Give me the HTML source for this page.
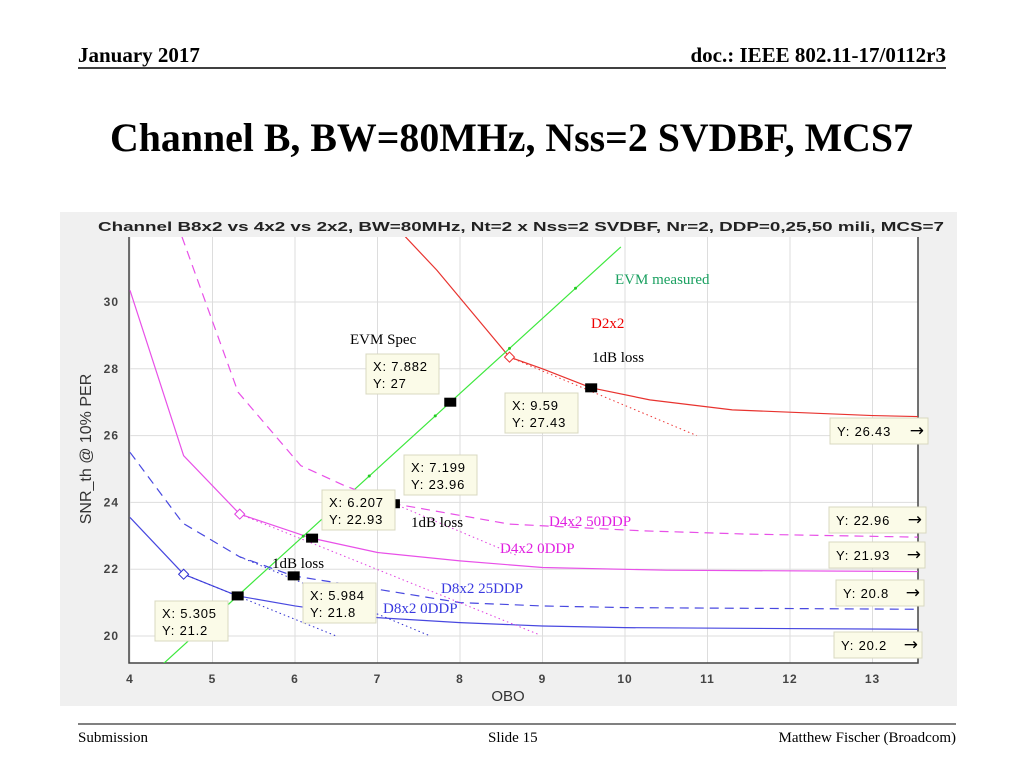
<!DOCTYPE html>
<html><head><meta charset="utf-8"><style>
html,body{margin:0;padding:0;background:#fff;}
svg{display:block;font-family:"Liberation Serif",serif;}
</style></head><body>
<svg id="slide" width="1024" height="768" viewBox="0 0 1024 768">
<text x="78" y="62" font-size="21" font-weight="bold">January 2017</text>
<text x="946" y="62" font-size="21" font-weight="bold" text-anchor="end">doc.: IEEE 802.11-17/0112r3</text>
<line x1="78" y1="68" x2="946" y2="68" stroke="#000" stroke-width="1.5"/>
<text x="110" y="151" font-size="40" font-weight="bold" textLength="803" lengthAdjust="spacingAndGlyphs">Channel B, BW=80MHz, Nss=2 SVDBF, MCS7</text>
<rect x="60" y="212" width="897" height="494" fill="#f0f0f0"/>
<text x="98" y="231" font-family="Liberation Sans,sans-serif" font-size="13" font-weight="bold" fill="#222" textLength="846" lengthAdjust="spacingAndGlyphs">Channel B8x2 vs 4x2 vs 2x2, BW=80MHz, Nt=2 x Nss=2 SVDBF, Nr=2, DDP=0,25,50 mili, MCS=7</text>
<g id="plot"></g>
<line x1="78" y1="724" x2="956" y2="724" stroke="#000" stroke-width="1"/>
<text x="78" y="742" font-size="15">Submission</text>
<text x="488" y="742" font-size="15">Slide 15</text>
<text x="956" y="742" font-size="15" text-anchor="end">Matthew Fischer (Broadcom)</text>
</svg>
<script>
const xTicks=[4,5,6,7,8,9,10,11,12,13];
const yTicks=[20,22,24,26,28,30];
const d2x2X=[7.32,7.72,8.6,9.0,9.59,10.3,11.3,13.0,13.55];
const d2x2Y=[32.0,30.95,28.35,28.0,27.43,27.07,26.77,26.6,26.57];
const evmX=[4.36,5.3,6.1,6.9,7.7,8.6,9.4,9.95];
const evmY=[19.07,21.19,22.99,24.79,26.59,28.61,30.41,31.65];
const d4x2_50X=[4.63,5.31,6.07,6.6,7.2,8.6,10.2,11.5,13.55];
const d4x2_50Y=[31.95,27.3,25.1,24.5,23.96,23.35,23.15,23.05,22.96];
const d4x2_0X=[4.0,4.65,5.33,6.2,7.0,8.0,9.0,10.5,13.55];
const d4x2_0Y=[30.35,25.4,23.65,22.93,22.5,22.25,22.05,21.97,21.93];
const d8x2_25X=[4.0,4.64,5.33,5.98,7.0,8.0,9.0,10.0,13.55];
const d8x2_25Y=[25.5,23.38,22.37,21.8,21.4,21.0,20.9,20.85,20.8];
const d8x2_0X=[4.0,4.65,5.305,6.0,7.0,8.0,9.0,10.0,13.55];
const d8x2_0Y=[23.55,21.85,21.2,20.9,20.55,20.4,20.3,20.25,20.2];
const lossLines=[[[8.6,28.35],[10.87,26.0],'#e33'],[[5.33,23.65],[8.97,20.03],'#e040e0'],[[7.2,23.96],[8.7,22.4],'#e040e0'],[[4.65,21.85],[6.5,20.0],'#3030d0'],[[5.33,22.37],[7.64,20.0],'#3030d0']];
const diamondsX=[8.6,5.33,4.65];
const diamondsY=[28.35,23.65,21.85];
const diamondColors=['#e33','#e040e0','#3030d0'];
const tipsX=[7.882,9.59,7.199,6.207,5.984,5.305];
const tipsY=[27,27.43,23.96,22.93,21.8,21.2];
const tipBoxes=[[366,354],[505,393],[404,455],[322,490],[303,583],[155,601]];
const endLabels=['26.43','22.96','21.93','20.8','20.2'];
const endBoxes=[[830,418,98],[829,507,97],[829,542,96],[836,580,88],[834,632,88]];
const L=129,R=918,T=237,B=663;
const sx=v=>130+(v-4)*82.5;
const sy=v=>636-(v-20)*33.4;
const NS='http://www.w3.org/2000/svg';
const g=document.getElementById('plot');
function mk(tag,attrs,parent){const e=document.createElementNS(NS,tag);for(const k in attrs)e.setAttribute(k,attrs[k]);(parent||g).appendChild(e);return e;}
const cp=mk('clipPath',{id:'clip'});mk('rect',{x:L,y:T,width:R-L,height:B-T},cp);
const bg=mk('rect',{x:L,y:T,width:R-L,height:B-T,fill:'#fff'});


xTicks.forEach(v=>{
 const l=mk('line',{x1:sx(v),x2:sx(v),y1:T,y2:B,stroke:'#ddd','stroke-width':1});
 
 
 const t=mk('text',{x:sx(v),y:683,'text-anchor':'middle','font-size':12,'font-weight':'bold','letter-spacing':1,'font-family':'Liberation Sans,sans-serif',fill:'#444'});t.textContent=v;
 
 
});
yTicks.forEach(v=>{
 const l=mk('line',{x1:L,x2:R,y1:sy(v),y2:sy(v),stroke:'#ddd','stroke-width':1});
 
 
 const t=mk('text',{x:119,y:sy(v)+4,'text-anchor':'end','font-size':12,'font-weight':'bold','letter-spacing':1,'font-family':'Liberation Sans,sans-serif',fill:'#444'});t.textContent=v;
 
 
});
const ax=mk('path',{d:`M${L},${T}V${B}H${R}V${T}`,fill:'none',stroke:'#444','stroke-width':1.5});


const xl=mk('text',{x:508,y:701,'text-anchor':'middle','font-size':15,'font-family':'Liberation Sans,sans-serif',fill:'#333'});xl.textContent='OBO';


const yl=mk('text',{x:0,y:0,'text-anchor':'middle','font-size':16,'font-family':'Liberation Sans,sans-serif',fill:'#333',transform:'translate(91,449) rotate(-90)'});yl.textContent='SNR_th @ 10% PER';


const cg=mk('g',{'clip-path':'url(#clip)'});
function series(xs,ys,color,dash,name,w){
 const p=mk('polyline',{points:xs.map((x,i)=>sx(x)+','+sy(ys[i])).join(' '),fill:'none',stroke:color,'stroke-width':w||1.2,'stroke-dasharray':dash||'none'},cg);
 
 
}
series(d2x2X,d2x2Y,'#e8332f','','series-d2x2');
series(evmX,evmY,'#3ee83e','','series-evm-measured');
series(d4x2_50X,d4x2_50Y,'#e850e8','9,6','series-d4x2-50ddp');
series(d4x2_0X,d4x2_0Y,'#e850e8','','series-d4x2-0ddp');
series(d8x2_25X,d8x2_25Y,'#4848e0','9,6','series-d8x2-25ddp');
series(d8x2_0X,d8x2_0Y,'#4848e0','','series-d8x2-0ddp');
evmX.slice(1,-1).forEach((x,i)=>{const c=mk('circle',{cx:sx(x),cy:sy(evmY[i+1]),r:1.5,fill:'#2c2'},cg);
 
 });
lossLines.forEach(s=>{const l=mk('line',{x1:sx(s[0][0]),y1:sy(s[0][1]),x2:sx(s[1][0]),y2:sy(s[1][1]),stroke:s[2],'stroke-width':1,'stroke-dasharray':'1.5,3'},cg);
 
 });
diamondsX.forEach((x,i)=>{const cx=sx(x),cy=sy(diamondsY[i]);const d=mk('path',{d:`M${cx-5},${cy}L${cx},${cy-5}L${cx+5},${cy}L${cx},${cy+5}Z`,fill:'#fff',stroke:diamondColors[i],'stroke-width':1},cg);
 
 });
tipsX.forEach((x,i)=>{const r=mk('rect',{x:sx(x)-6,y:sy(tipsY[i])-4.5,width:12,height:9,fill:'#000'},cg);
 
 
 const b=tipBoxes[i];
 const bx=mk('rect',{x:b[0],y:b[1],width:73,height:40,fill:'#fbfbe8',stroke:'#d8d8c0'});
 
 
 const t1=mk('text',{x:b[0]+7,y:b[1]+17,'font-size':13,'letter-spacing':0.8,'font-family':'Liberation Sans,sans-serif'});t1.textContent='X: '+x;
 
 
 const t2=mk('text',{x:b[0]+7,y:b[1]+34,'font-size':13,'letter-spacing':0.8,'font-family':'Liberation Sans,sans-serif'});t2.textContent='Y: '+tipsY[i];
 
 
});
endLabels.forEach((v,i)=>{const b=endBoxes[i];
 const bx=mk('rect',{x:b[0],y:b[1],width:b[2],height:26,fill:'#fbfbe8',stroke:'#d8d8c0'});
 
 
 const t=mk('text',{x:b[0]+7,y:b[1]+18,'font-size':13,'letter-spacing':0.8,'font-family':'Liberation Sans,sans-serif'});t.textContent='Y: '+v;
 
 
 const a=mk('text',{x:b[0]+b[2]-4,y:b[1]+18,'text-anchor':'end','font-size':17,'font-family':'DejaVu Sans,sans-serif'});a.textContent='\u2192';
 
 
});
const notes=[['EVM measured',615,284,'#1aa060','label-evm-measured'],['D2x2',591,328,'#e00','label-d2x2'],['EVM Spec',350,344,'#000','label-evm-spec'],['1dB loss',592,362,'#000','label-1db-loss-d2x2'],['D4x2 50DDP',549,526,'#e020e0','label-d4x2-50ddp'],['1dB loss',411,527,'#000','label-1db-loss-d4x2'],['D4x2 0DDP',500,553,'#e020e0','label-d4x2-0ddp'],['1dB loss',272,568,'#000','label-1db-loss-d8x2'],['D8x2 25DDP',441,593,'#3a3ae0','label-d8x2-25ddp'],['D8x2 0DDP',383,613,'#3a3ae0','label-d8x2-0ddp']];
notes.forEach(n=>{const t=mk('text',{x:n[1],y:n[2],'font-size':15,fill:n[3],'font-family':'Liberation Serif,serif'});t.textContent=n[0];
 
 });
</script>
</body></html>
